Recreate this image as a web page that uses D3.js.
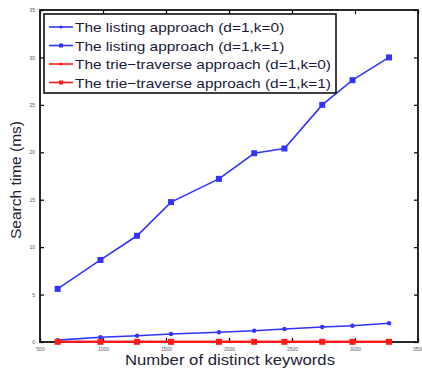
<!DOCTYPE html>
<html>
<head>
<meta charset="utf-8">
<script src="https://cdn.jsdelivr.net/npm/d3@7"></script>
<style>
  body { margin: 0; background: #fff; }
  svg { display: block; font-family: "Liberation Sans", Arial, sans-serif; }
</style>
</head>
<body>
<svg id="chart" width="422" height="371"></svg>
<script>
// data
const keywords = [640, 980, 1270, 1540, 1920, 2200, 2440, 2740, 2980, 3270];
const listingK0 = [0.2, 0.5, 0.66, 0.84, 1.02, 1.19, 1.37, 1.58, 1.72, 1.97];
const listingK1 = [5.6, 8.65, 11.2, 14.75, 17.2, 19.9, 20.4, 25.0, 27.6, 30.0];
const trieK0 = [0.02, 0.02, 0.02, 0.02, 0.02, 0.02, 0.02, 0.02, 0.02, 0.02];
const trieK1 = [0.02, 0.02, 0.02, 0.02, 0.02, 0.02, 0.02, 0.02, 0.02, 0.02];
const xTicks = [500, 1000, 1500, 2000, 2500, 3000, 3500];
const yTicks = [0, 5, 10, 15, 20, 25, 30, 35];
const legendLabels = [
  "The listing approach (d=1,k=0)",
  "The listing approach (d=1,k=1)",
  "The trie\u2212traverse approach (d=1,k=0)",
  "The trie\u2212traverse approach (d=1,k=1)"
];

const series = [
  {values: listingK0, color: "#3333ff", marker: "dot", width: 1.6},
  {values: listingK1, color: "#3333ff", marker: "square", width: 1.6},
  {values: trieK0, color: "#ff1a1a", marker: "dot", width: 2.2},
  {values: trieK1, color: "#ff1a1a", marker: "square", width: 2.2}
];

let plot = {left: 40, right: 418, top: 10, bottom: 342};
let svg = d3.select("#chart");

let x = d3.scaleLinear().domain([500, 3500]).range([plot.left, plot.right]);
let y = d3.scaleLinear().domain([0, 35]).range([plot.bottom, plot.top]);

// axes, MATLAB style: ticks inward on all four sides
let tickLen = 4;
svg.append("g")
  .attr("transform", "translate(0," + plot.bottom + ")")
  .call(d3.axisBottom(x).tickValues(xTicks).tickSize(-tickLen).tickPadding(5).tickFormat(d3.format("d")))
  .call(g => g.select(".domain").remove())
  .call(g => g.selectAll("text").attr("font-size", 5).attr("fill", "#556"));
svg.append("g")
  .attr("transform", "translate(0," + plot.top + ")")
  .call(d3.axisTop(x).tickValues(xTicks).tickSize(-tickLen).tickFormat(""))
  .call(g => g.select(".domain").remove());
svg.append("g")
  .attr("transform", "translate(" + plot.left + ",0)")
  .call(d3.axisLeft(y).tickValues(yTicks).tickSize(-tickLen).tickPadding(5))
  .call(g => g.select(".domain").remove())
  .call(g => g.selectAll("text").attr("font-size", 5).attr("fill", "#556"));
svg.append("g")
  .attr("transform", "translate(" + plot.right + ",0)")
  .call(d3.axisRight(y).tickValues(yTicks).tickSize(-tickLen).tickFormat(""))
  .call(g => g.select(".domain").remove());
svg.selectAll(".tick line").attr("stroke", "#000").attr("stroke-width", 1.2);

svg.append("rect")
  .attr("x", plot.left).attr("y", plot.top)
  .attr("width", plot.right - plot.left).attr("height", plot.bottom - plot.top)
  .attr("fill", "none").attr("stroke", "#111").attr("stroke-width", 1.8);

// lines and markers
let line = d3.line().x((d, i) => x(keywords[i])).y(d => y(d));
series.forEach(s => {
  let g = svg.append("g");
  g.append("path")
    .datum(s.values)
    .attr("d", line)
    .attr("fill", "none")
    .attr("stroke", s.color)
    .attr("stroke-width", s.width);
  if (s.marker === "square") {
    g.selectAll("rect").data(s.values).enter().append("rect")
      .attr("x", (d, i) => x(keywords[i]) - 3)
      .attr("y", d => y(d) - 3)
      .attr("width", 6).attr("height", 6)
      .attr("fill", s.color);
  } else {
    g.selectAll("circle").data(s.values).enter().append("circle")
      .attr("cx", (d, i) => x(keywords[i]))
      .attr("cy", d => y(d))
      .attr("r", 2.2)
      .attr("fill", s.color);
  }
});

// legend
let legend_dim = {x: 44, y: 14, w: 292, h: 79, row: 18.5};
let legend = svg.append("g").attr("class", "legend");
legend.append("rect")
  .attr("x", legend_dim.x).attr("y", legend_dim.y)
  .attr("width", legend_dim.w).attr("height", legend_dim.h)
  .attr("fill", "#fff").attr("stroke", "#111").attr("stroke-width", 1.6);
let texts = [];
legendLabels.forEach((label, idx) => {
  let s = series[idx];
  let cy = legend_dim.y + 13 + idx * legend_dim.row;
  legend.append("line")
    .attr("x1", legend_dim.x + 5).attr("x2", legend_dim.x + 29)
    .attr("y1", cy).attr("y2", cy)
    .attr("stroke", s.color).attr("stroke-width", 1.6);
  if (s.marker === "square") {
    legend.append("rect")
      .attr("x", legend_dim.x + 15).attr("y", cy - 2)
      .attr("width", 4).attr("height", 4).attr("fill", s.color);
  } else {
    legend.append("circle")
      .attr("cx", legend_dim.x + 17).attr("cy", cy).attr("r", 1.6).attr("fill", s.color);
  }
  texts.push(legend.append("text")
    .attr("x", legend_dim.x + 31).attr("y", cy + 5)
    .attr("font-size", 13.5).attr("fill", "#1a1a3a")
    .text(label));
});
// the original font is wider than Arial: stretch to match the longest entry
let stretch = 256 / texts[2].node().getComputedTextLength();
texts.forEach(t => {
  t.attr("textLength", t.node().getComputedTextLength() * stretch)
   .attr("lengthAdjust", "spacingAndGlyphs");
});

// axis titles
let xt = svg.append("text")
  .attr("x", 230).attr("y", 365)
  .attr("text-anchor", "middle").attr("font-size", 15).attr("fill", "#223")
  .text("Number of distinct keywords");
xt.attr("textLength", 210).attr("lengthAdjust", "spacingAndGlyphs");
svg.append("text")
  .attr("transform", "translate(21,180) rotate(-90)")
  .attr("text-anchor", "middle").attr("font-size", 14).attr("fill", "#223")
  .attr("textLength", 118).attr("lengthAdjust", "spacingAndGlyphs")
  .text("Search time (ms)");
</script>
</body>
</html>
